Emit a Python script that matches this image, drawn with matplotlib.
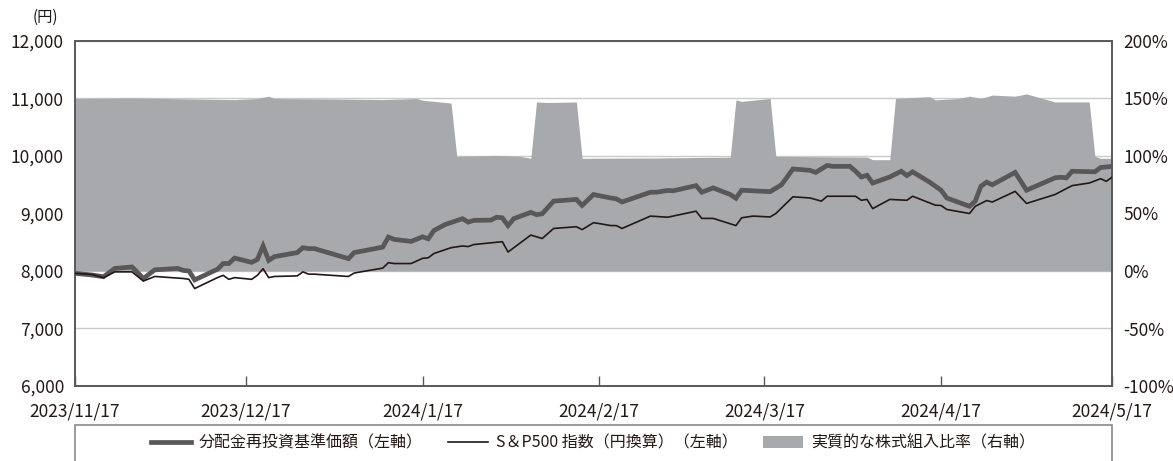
import matplotlib
matplotlib.use("Agg")
import matplotlib.pyplot as plt
from matplotlib.patches import Rectangle, Patch
from matplotlib.lines import Line2D
from matplotlib.ticker import FuncFormatter
import pandas as pd

plt.rcParams['font.family'] = ['Noto Sans CJK JP', 'DejaVu Sans']
plt.rcParams['axes.unicode_minus'] = False

# 分配金再投資基準価額（左軸）
nav_dates = ["2023-11-17", "2023-11-20", "2023-11-22", "2023-11-24", "2023-11-27", "2023-11-29",
             "2023-12-01", "2023-12-05", "2023-12-06", "2023-12-07", "2023-12-08", "2023-12-12",
             "2023-12-13", "2023-12-14", "2023-12-15", "2023-12-18", "2023-12-19", "2023-12-20",
             "2023-12-21", "2023-12-22", "2023-12-26", "2023-12-27", "2023-12-28", "2023-12-29",
             "2024-01-04", "2024-01-05", "2024-01-10", "2024-01-11", "2024-01-12", "2024-01-15",
             "2024-01-17", "2024-01-18", "2024-01-19", "2024-01-21", "2024-01-24", "2024-01-25",
             "2024-01-26", "2024-01-29", "2024-01-30", "2024-01-31", "2024-02-01", "2024-02-02",
             "2024-02-05", "2024-02-06", "2024-02-07", "2024-02-09", "2024-02-13", "2024-02-14",
             "2024-02-16", "2024-02-17", "2024-02-19", "2024-02-20", "2024-02-21", "2024-02-26",
             "2024-02-27", "2024-02-29", "2024-03-01", "2024-03-05", "2024-03-06", "2024-03-08",
             "2024-03-11", "2024-03-12", "2024-03-13", "2024-03-18", "2024-03-20", "2024-03-22",
             "2024-03-25", "2024-03-26", "2024-03-28", "2024-03-29", "2024-04-01", "2024-04-02",
             "2024-04-03", "2024-04-04", "2024-04-05", "2024-04-08", "2024-04-10", "2024-04-11",
             "2024-04-12", "2024-04-15", "2024-04-17", "2024-04-18", "2024-04-22", "2024-04-23",
             "2024-04-24", "2024-04-25", "2024-04-26", "2024-04-30", "2024-05-02", "2024-05-07",
             "2024-05-08", "2024-05-09", "2024-05-10", "2024-05-14", "2024-05-15", "2024-05-17"]
nav_values = [7960, 7930, 7900, 8045, 8070, 7870,
              8020, 8045, 8010, 8000, 7845, 8030,
              8130, 8130, 8225, 8150, 8200, 8435,
              8185, 8250, 8320, 8405, 8390, 8390,
              8215, 8320, 8415, 8590, 8550, 8515,
              8595, 8560, 8705, 8810, 8910, 8850,
              8880, 8885, 8935, 8925, 8790, 8910,
              9020, 8980, 8995, 9215, 9245, 9140,
              9330, 9310, 9270, 9255, 9200, 9370,
              9370, 9400, 9395, 9485, 9370, 9445,
              9330, 9265, 9405, 9380, 9500, 9775,
              9750, 9715, 9835, 9820, 9820, 9735,
              9635, 9665, 9530, 9635, 9735, 9660,
              9725, 9545, 9405, 9270, 9125, 9215,
              9475, 9545, 9500, 9715, 9405, 9620,
              9630, 9620, 9735, 9725, 9800, 9820]

# S&P500指数（円換算）（左軸）
sp_dates = ["2023-11-17", "2023-11-20", "2023-11-22", "2023-11-24", "2023-11-27", "2023-11-29",
            "2023-12-01", "2023-12-06", "2023-12-07", "2023-12-08", "2023-12-12", "2023-12-13",
            "2023-12-14", "2023-12-15", "2023-12-18", "2023-12-19", "2023-12-20", "2023-12-21",
            "2023-12-22", "2023-12-26", "2023-12-27", "2023-12-28", "2023-12-29", "2024-01-04",
            "2024-01-05", "2024-01-10", "2024-01-11", "2024-01-12", "2024-01-15", "2024-01-17",
            "2024-01-18", "2024-01-19", "2024-01-22", "2024-01-24", "2024-01-25", "2024-01-26",
            "2024-01-31", "2024-02-01", "2024-02-05", "2024-02-07", "2024-02-09", "2024-02-13",
            "2024-02-14", "2024-02-16", "2024-02-17", "2024-02-19", "2024-02-20", "2024-02-21",
            "2024-02-26", "2024-02-29", "2024-03-05", "2024-03-06", "2024-03-08", "2024-03-12",
            "2024-03-13", "2024-03-15", "2024-03-18", "2024-03-19", "2024-03-22", "2024-03-25",
            "2024-03-27", "2024-03-28", "2024-04-02", "2024-04-03", "2024-04-04", "2024-04-05",
            "2024-04-08", "2024-04-11", "2024-04-12", "2024-04-16", "2024-04-17", "2024-04-18",
            "2024-04-22", "2024-04-23", "2024-04-25", "2024-04-26", "2024-04-30", "2024-05-02",
            "2024-05-07", "2024-05-10", "2024-05-13", "2024-05-15", "2024-05-16", "2024-05-17"]
sp_values = [7960, 7940, 7885, 7985, 7985, 7825,
             7905, 7870, 7855, 7695, 7885, 7925,
             7855, 7885, 7855, 7925, 8040, 7885,
             7905, 7915, 7985, 7945, 7945, 7905,
             7965, 8050, 8145, 8130, 8130, 8220,
             8230, 8305, 8405, 8435, 8425, 8460,
             8510, 8330, 8625, 8565, 8740, 8770,
             8720, 8840, 8825, 8790, 8790, 8740,
             8955, 8935, 9040, 8915, 8915, 8790,
             8925, 8955, 8940, 9000, 9290, 9270,
             9215, 9300, 9300, 9230, 9245, 9085,
             9245, 9230, 9300, 9145, 9140, 9070,
             9000, 9125, 9225, 9200, 9385, 9175,
             9330, 9485, 9530, 9605, 9560, 9630]

# 実質的な株式組入比率（右軸, %）
ratio_dates = ["2023-11-17", "2023-11-27", "2023-12-15", "2023-12-19", "2023-12-21", "2023-12-22",
               "2024-01-01", "2024-01-10", "2024-01-16", "2024-01-17", "2024-01-22", "2024-01-23",
               "2024-01-30", "2024-02-03", "2024-02-05", "2024-02-06", "2024-02-08", "2024-02-13",
               "2024-02-14", "2024-02-27", "2024-03-11", "2024-03-12", "2024-03-13", "2024-03-18",
               "2024-03-19", "2024-04-04", "2024-04-05", "2024-04-08", "2024-04-09", "2024-04-15",
               "2024-04-16", "2024-04-20", "2024-04-22", "2024-04-24", "2024-04-26", "2024-04-30",
               "2024-05-02", "2024-05-07", "2024-05-13", "2024-05-14", "2024-05-15", "2024-05-17"]
ratio_values = [150, 150.5, 149, 150, 152, 150,
                149.6, 149, 150, 148.5, 146, 99.7,
                100.5, 99.7, 98, 147, 146.5, 147,
                98, 98.3, 99, 148.8, 147.5, 150,
                99.7, 99, 96.8, 96.8, 150, 151.6,
                148.8, 150, 152, 150, 153, 152,
                154, 147, 147, 99.7, 98, 98]

tick_dates = ["2023-11-17", "2023-12-17", "2024-01-17", "2024-02-17",
              "2024-03-17", "2024-04-17", "2024-05-17"]

nav_x = pd.to_datetime(nav_dates)
sp_x = pd.to_datetime(sp_dates)
ratio_x = pd.to_datetime(ratio_dates)
ticks_x = pd.to_datetime(tick_dates)

text_color = "#231815"
spine_color = "#595757"

fig = plt.figure(figsize=(11.73, 4.61), dpi=100)
ax = fig.add_axes([75 / 1173, 1 - 386 / 461, (1112 - 75) / 1173, (386 - 41) / 461])
ax2 = ax.twinx()

# fill (right axis) sits behind the lines
ax2.fill_between(ratio_x, 0, ratio_values, color="#a8a9ac", lw=0, zorder=2)
ax2.set_ylim(-100, 200)
ax2.set_yticks([-100, -50, 0, 50, 100, 150, 200])
ax2.yaxis.set_major_formatter(FuncFormatter(lambda v, p: f"{v:.0f}%"))
ax2.set_axisbelow(True)
ax2.grid(axis="y", color="#c9caca", lw=1.0, zorder=0)

ax.set_zorder(ax2.get_zorder() + 1)
ax.patch.set_visible(False)
ax.plot(nav_x, nav_values, color="#595757", lw=3.4, solid_joinstyle="miter", zorder=3)
ax.plot(sp_x, sp_values, color="#231815", lw=1.2, zorder=4)

ax.set_ylim(6000, 12000)
ax.set_yticks(range(6000, 12001, 1000))
ax.yaxis.set_major_formatter(FuncFormatter(lambda v, p: f"{v:,.0f}"))
ax.set_xlim(ticks_x[0], ticks_x[-1])
ax.set_xticks(ticks_x)
ax.set_xticklabels([f"{d.year}/{d.month}/{d.day}" for d in ticks_x])

for a in (ax, ax2):
    for s in a.spines.values():
        s.set_color(spine_color)
        s.set_linewidth(1.2)
    a.tick_params(axis="y", length=0, labelsize=12.5, colors=text_color, pad=8)
ax.tick_params(axis="x", direction="in", length=7, width=1, color=spine_color,
               labelsize=12.5, labelcolor=text_color, pad=12)
ax2.tick_params(axis="x", length=0)

fig.text(45 / 1173, 1 - 17 / 461, "(円)", ha="center", va="center", fontsize=11, color=text_color)

# legend box, cut by the bottom edge like the original
fig.patches.append(Rectangle((75 / 1173, -0.2), (1112 - 75) / 1173, 0.2 + 1 - 425 / 461,
                             transform=fig.transFigure, fill=False, ec="#898989", lw=1.2))
handles = [
    Line2D([0], [0], color="#595757", lw=3.4),
    Line2D([0], [0], color="#231815", lw=1.2),
    Patch(facecolor="#a8a9ac", edgecolor="none"),
]
labels = ["分配金再投資基準価額（左軸）", "S＆P500 指数（円換算）（左軸）", "実質的な株式組入比率（右軸）"]
leg = fig.legend(handles, labels, loc="center", bbox_to_anchor=(593 / 1173, 1 - 443 / 461),
                 ncol=3, frameon=False, fontsize=11.5, handlelength=2.5, handletextpad=0.5,
                 columnspacing=1.6)
for t in leg.get_texts():
    t.set_color(text_color)

fig.savefig("out.png", dpi=100)
